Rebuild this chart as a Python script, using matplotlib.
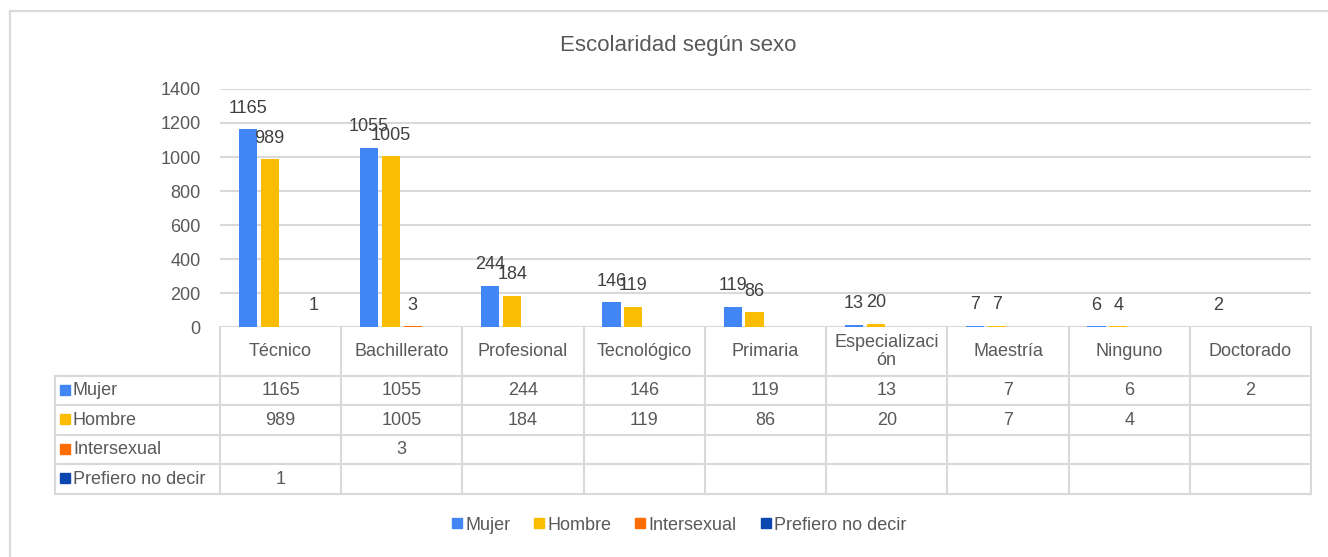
import matplotlib
matplotlib.use("Agg")
import matplotlib.pyplot as plt
import matplotlib.patches as mpatches
from matplotlib.lines import Line2D
from matplotlib.transforms import ScaledTranslation
import numpy as np

plt.rcParams['font.family'] = ['Liberation Sans', 'DejaVu Sans']

title = "Escolaridad según sexo"
categories = ["Técnico", "Bachillerato", "Profesional", "Tecnológico", "Primaria",
              "Especializaci\nón", "Maestría", "Ninguno", "Doctorado"]
series_names = ["Mujer", "Hombre", "Intersexual", "Prefiero no decir"]
mujer = [1165, 1055, 244, 146, 119, 13, 7, 6, 2]
hombre = [989, 1005, 184, 119, 86, 20, 7, 4, None]
intersexual = [None, 3, None, None, None, None, None, None, None]
prefiero = [1, None, None, None, None, None, None, None, None]
series = [mujer, hombre, intersexual, prefiero]
colors = ["#4285F4", "#FBBC04", "#FF6D01", "#0B47AE"]
yticks = [0, 200, 400, 600, 800, 1000, 1200, 1400]

W, H = 1328, 557
fig = plt.figure(figsize=(W / 100, H / 100), dpi=100)

grid_c = "#d9d9d9"
txt_c = "#595959"
lab_c = "#404040"
fs = 13

# outer frame
fig.add_artist(mpatches.Rectangle((10 / W, -0.05), 1.2, (H - 11) / H + 0.05,
                                  transform=fig.transFigure, fill=False,
                                  edgecolor=grid_c, lw=1.6))

x0, x1 = 220, 1311
ytop, y0 = 89, 327
ax = fig.add_axes([x0 / W, (H - y0) / H, (x1 - x0) / W, (y0 - ytop) / H])
n = len(categories)
x = np.arange(n)
pitch = 0.18
bw = 0.15
for si, (vals, col) in enumerate(zip(series, colors)):
    off = (si - 1.5) * pitch
    xs = [xi + off for xi, v in zip(x, vals) if v is not None]
    vs = [v for v in vals if v is not None]
    ax.bar(xs, vs, width=bw, color=col, zorder=3)
    for xi, v in zip(xs, vs):
        ax.annotate(str(v), (xi, v), xytext=(0, 15), textcoords="offset points",
                    ha="center", va="center", fontsize=fs, color=lab_c, zorder=4)

ax.set_xlim(-0.5, n - 0.5)
ax.set_ylim(0, 1400)
ax.set_yticks(yticks)
ax.set_yticklabels([str(t) for t in yticks], fontsize=fs, color=txt_c)
ax.tick_params(axis="y", length=0, pad=14)
ax.set_xticks([])
ax.grid(axis="y", color=grid_c, lw=1.5, zorder=0)
for s in ax.spines.values():
    s.set_visible(False)
ax.patch.set_alpha(0)

fig.text(678 / W, 1 - 45 / H, title, ha="center", va="center", fontsize=16, color=txt_c)

# data table
tx0 = 55
tb = 494
row_h = [1.66, 1.0, 1.0, 1.0, 1.0]
bounds = np.concatenate([[0], np.cumsum(row_h)])
unit = (x1 - x0) / n
xl = -0.5 - (x0 - tx0) / unit
tax = fig.add_axes([tx0 / W, (H - tb) / H, (x1 - tx0) / W, (tb - y0) / H])
tax.set_xlim(xl, n - 0.5)
tax.set_ylim(bounds[-1], 0)
tax.axis("off")
lw = 1.5
for b in bounds[1:]:
    tax.plot([xl, n - 0.5], [b, b], color=grid_c, lw=lw, clip_on=False, solid_capstyle="butt")
tax.plot([xl, xl], [bounds[1], bounds[-1]], color=grid_c, lw=lw, clip_on=False)
for i in range(n + 1):
    tax.plot([i - 0.5, i - 0.5], [0, bounds[-1]], color=grid_c, lw=lw, clip_on=False)

for i, c in enumerate(categories):
    tax.text(i, (bounds[0] + bounds[1]) / 2, c, ha="center", va="center",
             fontsize=fs, color=txt_c, linespacing=1.1)
for r, (name, vals, col) in enumerate(zip(series_names, series, colors)):
    yc = (bounds[r + 1] + bounds[r + 2]) / 2
    tr = tax.transData + ScaledTranslation(10 / 100, 1 / 100, fig.dpi_scale_trans)
    tax.plot([xl], [yc], marker="s", ms=6.5, color=col, transform=tr, clip_on=False)
    tr2 = tax.transData + ScaledTranslation(18 / 100, 0, fig.dpi_scale_trans)
    tax.text(xl, yc, name, ha="left", va="center", fontsize=fs, color=txt_c, transform=tr2)
    for i, v in enumerate(vals):
        if v is not None:
            tax.text(i, yc, str(v), ha="center", va="center", fontsize=fs, color=txt_c)

handles = [Line2D([], [], marker="s", ls="", color=c, ms=7) for c in colors]
leg = fig.legend(handles, series_names, loc="center", bbox_to_anchor=(679 / W, 1 - 525 / H),
                 ncol=4, frameon=False, fontsize=fs, handlelength=0.6, handletextpad=0.15,
                 columnspacing=1.3, labelcolor=txt_c)

fig.savefig("out.png", dpi=100)
